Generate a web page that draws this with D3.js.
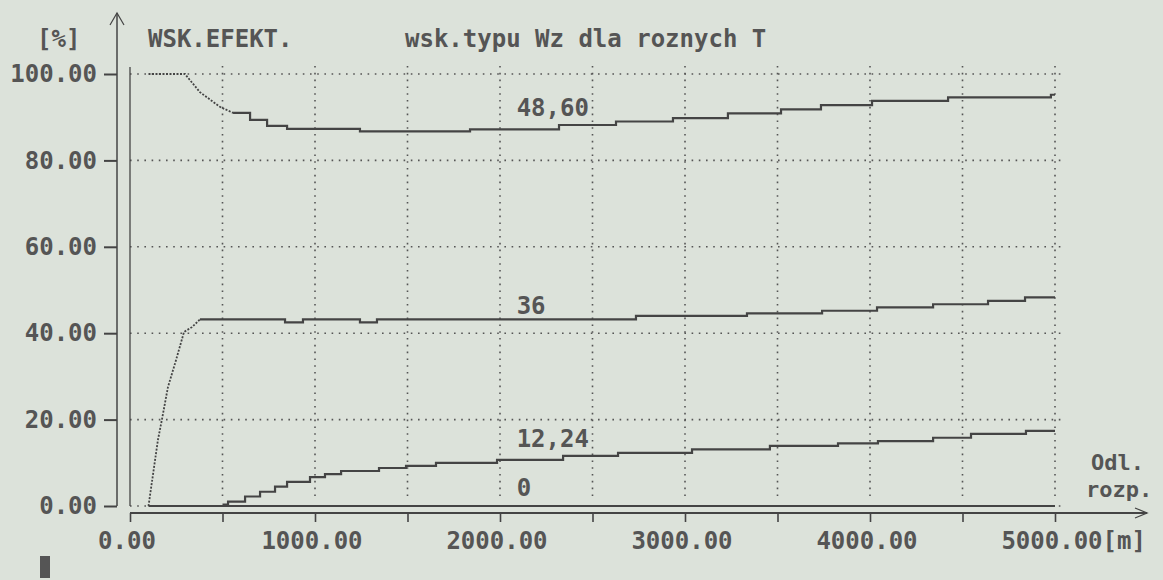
<!DOCTYPE html>
<html>
<head>
<meta charset="utf-8">
<script src="https://cdn.jsdelivr.net/npm/d3@7"></script>
<style>
  html, body { margin: 0; padding: 0; background: #dce2da; }
  svg text { font-family: "DejaVu Sans Mono", monospace; fill: #555; font-weight: bold; }
</style>
</head>
<body>
<div id="chart"></div>
<script>
// axis ticks
const xTicks = [0, 500, 1000, 1500, 2000, 2500, 3000, 3500, 4000, 4500, 5000];
const xLabelTicks = [0, 1000, 2000, 3000, 4000, 5000];
const yTicks = [0, 20, 40, 60, 80, 100];

// T = 48,60 : falling part drawn straight, then the plotter steps
const ramp48m = [100, 297, 378, 486, 557];
const ramp48v = [100, 100, 95.8, 92.4, 91.0];
const step48m = [557, 649, 741, 849, 1243, 1838, 2319, 2627, 2935, 3232, 3519, 3735, 4011, 4422, 4978, 5000];
const step48v = [91.0, 89.4, 88.0, 87.3, 86.7, 87.2, 88.2, 89.0, 89.8, 90.9, 91.8, 92.8, 93.8, 94.6, 95.2, 95.2];

// T = 36
const ramp36m = [100, 151, 173, 205, 249, 292, 335, 378];
const ramp36v = [0, 15.3, 20.1, 27.5, 33.8, 40.3, 41.4, 43.2];
const step36m = [378, 838, 935, 1243, 1335, 2735, 3335, 3741, 4038, 4341, 4638, 4838, 5000];
const step36v = [43.2, 42.5, 43.2, 42.5, 43.2, 44.0, 44.6, 45.2, 46.0, 46.7, 47.5, 48.3, 48.3];

// T = 12,24
const step12m = [500, 530, 622, 703, 784, 849, 973, 1054, 1141, 1346, 1492, 1654, 1984, 2341, 2638, 3038, 3459, 3827, 4043, 4341, 4546, 4843, 5000];
const step12v = [0.3, 1.0, 2.2, 3.3, 4.5, 5.6, 6.7, 7.4, 8.1, 8.8, 9.3, 10.0, 10.7, 11.6, 12.3, 13.1, 13.9, 14.5, 15.0, 15.8, 16.7, 17.4, 17.4];

// T = 0
const step0m = [100, 5000];
const step0v = [0, 0];

// curve labels (where they sit, in chart units)
const labelText = ["48,60", "36", "12,24", "0"];
const labelM = [2090, 2090, 2090, 2090];
const labelV = [92.2, 46.5, 15.7, 4.4];

const width = 1163;
const height = 580;
const ink = "#444";

const svg = d3.select("#chart")
  .append("svg")
  .attr("width", width)
  .attr("height", height);

const x = d3.scaleLinear().domain([0, 5000]).range([130, 1055]);
const y = d3.scaleLinear().domain([0, 100]).range([506, 74]);

const zip = (m, v) => m.map((d, i) => [d, v[i]]);

// dotted grid
svg.append("g")
  .selectAll("line")
  .data(yTicks)
  .join("line")
  .attr("x1", x(0))
  .attr("x2", 1064)
  .attr("y1", d => y(d))
  .attr("y2", d => y(d))
  .attr("stroke", "#555")
  .attr("stroke-width", 1.6)
  .attr("stroke-dasharray", "1.6,5.6");

svg.append("g")
  .selectAll("line")
  .data(xTicks.slice(1))
  .join("line")
  .attr("x1", d => x(d))
  .attr("x2", d => x(d))
  .attr("y1", 66)
  .attr("y2", 496)
  .attr("stroke", "#555")
  .attr("stroke-width", 1.6)
  .attr("stroke-dasharray", "1.6,5.2");

// left frame line of the plot
svg.append("line")
  .attr("x1", x(0)).attr("x2", x(0))
  .attr("y1", 67).attr("y2", y(0))
  .attr("stroke", ink).attr("stroke-width", 1.3);

// y axis with arrow
svg.append("line")
  .attr("x1", 117).attr("x2", 117)
  .attr("y1", 13).attr("y2", y(0))
  .attr("stroke", ink).attr("stroke-width", 1.5);
svg.append("path")
  .attr("d", "M110,25L117,13L124,25")
  .attr("fill", "none").attr("stroke", ink).attr("stroke-width", 1.2);

const yAxis = svg.append("g")
  .attr("transform", "translate(117,0)")
  .call(d3.axisLeft(y).tickValues(yTicks).tickSize(13).tickPadding(7).tickFormat(d3.format(".2f")));
yAxis.select(".domain").remove();
yAxis.selectAll("line").attr("stroke", ink).attr("stroke-width", 2);
yAxis.selectAll("text")
  .attr("font-size", 24)
  .attr("font-family", "DejaVu Sans Mono")
  .attr("fill", "#555");

// x axis with arrow
const xAxisY = 513;
svg.append("line")
  .attr("x1", x(0)).attr("x2", 1147)
  .attr("y1", xAxisY).attr("y2", xAxisY)
  .attr("stroke", ink).attr("stroke-width", 2);
svg.append("path")
  .attr("d", `M1135,${xAxisY - 5}L1147,${xAxisY}L1135,${xAxisY + 5}`)
  .attr("fill", "none").attr("stroke", ink).attr("stroke-width", 1.3);

const xAxis = svg.append("g")
  .attr("transform", `translate(0,${xAxisY})`)
  .call(d3.axisBottom(x).tickValues(xTicks).tickSize(9).tickFormat(""));
xAxis.select(".domain").remove();
xAxis.selectAll("line").attr("stroke", ink).attr("stroke-width", 1.6);

svg.append("g")
  .selectAll("text")
  .data(xLabelTicks)
  .join("text")
  .attr("x", d => x(d) - 3)
  .attr("y", xAxisY + 36)
  .attr("text-anchor", "middle")
  .attr("font-size", 24)
  .text(d => d3.format(".2f")(d));

svg.append("text")
  .attr("x", x(5000) - 3 + 7 * 14.45 / 2)
  .attr("y", xAxisY + 36)
  .attr("font-size", 24)
  .text("[m]");

// curves
const lineStep = d3.line().x(d => x(d[0])).y(d => y(d[1])).curve(d3.curveStepAfter);
const lineStraight = d3.line().x(d => x(d[0])).y(d => y(d[1]));

const stepped = [zip(step48m, step48v), zip(step36m, step36v), zip(step12m, step12v), zip(step0m, step0v)];
const straight = [zip(ramp48m, ramp48v), zip(ramp36m, ramp36v)];

svg.append("g")
  .selectAll("path")
  .data(stepped)
  .join("path")
  .attr("d", lineStep)
  .attr("fill", "none")
  .attr("stroke", ink)
  .attr("stroke-width", 2.2);

svg.append("g")
  .selectAll("path")
  .data(straight)
  .join("path")
  .attr("d", lineStraight)
  .attr("fill", "none")
  .attr("stroke", ink)
  .attr("stroke-width", 1.8)
  .attr("stroke-dasharray", "2,1.5");

// curve labels
svg.append("g")
  .selectAll("text")
  .data(labelText)
  .join("text")
  .attr("x", (d, i) => x(labelM[i]))
  .attr("y", (d, i) => y(labelV[i]))
  .attr("dy", "0.36em")
  .attr("font-size", 24)
  .text(d => d);

// header texts
svg.append("text").attr("x", 37).attr("y", 47).attr("font-size", 24).text("[%]");
svg.append("text").attr("x", 148).attr("y", 47).attr("font-size", 24).text("WSK.EFEKT.");
svg.append("text").attr("x", 405).attr("y", 47).attr("font-size", 24).text("wsk.typu Wz dla roznych T");

// x axis title
svg.append("text").attr("x", 1091).attr("y", 470).attr("font-size", 22).text("Odl.");
svg.append("text").attr("x", 1086).attr("y", 497).attr("font-size", 22).text("rozp.");

// cursor block in the corner
svg.append("rect")
  .attr("x", 40).attr("y", 556)
  .attr("width", 10).attr("height", 22)
  .attr("fill", "#555");
</script>
</body>
</html>
